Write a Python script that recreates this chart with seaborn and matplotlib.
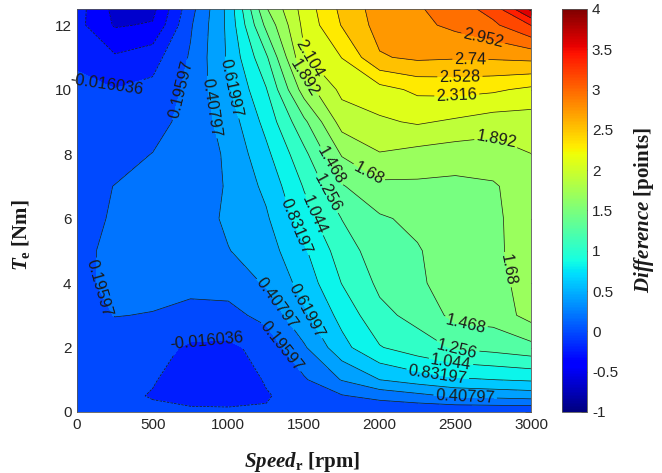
import numpy as np
import matplotlib
matplotlib.use("Agg")
import matplotlib.pyplot as plt
import seaborn as sns
from matplotlib.colors import Normalize
from matplotlib.cm import ScalarMappable

# ---------------- data ----------------
speed_rpm = [0, 250, 500, 750, 1000, 1250, 1500, 1750, 2000, 2250, 2500, 2750, 3000]
torque_nm = [0, 0.5, 1, 2, 3, 4, 5, 6, 7, 8, 9, 10, 11, 12, 12.5]

# difference [points] along torque_nm, one list per speed
diff_0rpm    = [0.06, 0.06, 0.07, 0.10, 0.13, 0.15, 0.16, 0.15, 0.13, 0.09, 0.05, 0.03, -0.05, -0.16, -0.14]
diff_250rpm  = [0.05, 0.04, 0.06, 0.12, 0.20, 0.24, 0.23, 0.21, 0.20, 0.13, 0.06, -0.01, -0.20, -0.46, -0.50]
diff_500rpm  = [0.03, -0.03, 0.00, 0.06, 0.19, 0.24, 0.26, 0.25, 0.22, 0.20, 0.12, 0.04, -0.10, -0.42, -0.50]
diff_750rpm  = [0.03, -0.10, -0.12, -0.05, 0.15, 0.24, 0.28, 0.28, 0.27, 0.28, 0.27, 0.25, 0.22, 0.17, 0.12]
diff_1000rpm = [0.03, -0.12, -0.14, -0.06, 0.13, 0.28, 0.40, 0.45, 0.43, 0.44, 0.50, 0.59, 0.65, 0.67, 0.68]
diff_1250rpm = [0.00, -0.03, 0.00, 0.06, 0.26, 0.43, 0.52, 0.59, 0.67, 0.78, 0.90, 1.03, 1.22, 1.52, 1.66]
diff_1500rpm = [0.00, 0.06, 0.17, 0.38, 0.58, 0.70, 0.80, 0.95, 1.06, 1.20, 1.42, 1.78, 2.08, 2.16, 2.19]
diff_1750rpm = [0.00, 0.18, 0.42, 0.76, 0.90, 1.05, 1.15, 1.26, 1.45, 1.70, 1.98, 2.16, 2.32, 2.54, 2.58]
diff_2000rpm = [0.00, 0.27, 0.62, 1.03, 1.20, 1.30, 1.37, 1.44, 1.63, 1.88, 2.07, 2.24, 2.72, 2.82, 2.84]
diff_2250rpm = [0.00, 0.35, 0.72, 1.16, 1.32, 1.43, 1.45, 1.52, 1.64, 1.82, 2.13, 2.36, 2.78, 2.90, 2.93]
diff_2500rpm = [0.00, 0.44, 0.80, 1.28, 1.53, 1.58, 1.59, 1.61, 1.63, 1.78, 2.07, 2.38, 2.76, 3.00, 3.05]
diff_2750rpm = [0.00, 0.47, 0.83, 1.33, 1.55, 1.63, 1.65, 1.65, 1.66, 1.78, 2.00, 2.35, 2.77, 3.12, 3.25]
diff_3000rpm = [0.00, 0.50, 0.86, 1.40, 1.76, 1.74, 1.75, 1.76, 1.78, 1.89, 2.00, 2.27, 2.80, 3.38, 3.85]

contour_levels = [-0.652036, -0.440036, -0.228036, -0.016036, 0.19597, 0.40797, 0.61997,
                  0.83197, 1.044, 1.256, 1.468, 1.68, 1.892, 2.104, 2.316, 2.528, 2.74,
                  2.952, 3.164, 3.376, 3.588, 3.8, 4.012]
labelled_levels = [-0.016036, 0.19597, 0.40797, 0.61997, 0.83197, 1.044, 1.256, 1.468,
                   1.68, 1.892, 2.104, 2.316, 2.528, 2.74, 2.952]
labelled_text = ["-0.016036", "0.19597", "0.40797", "0.61997", "0.83197", "1.044", "1.256",
                 "1.468", "1.68", "1.892", "2.104", "2.316", "2.528", "2.74", "2.952"]
x_ticks = [0, 500, 1000, 1500, 2000, 2500, 3000]
y_ticks = [0, 2, 4, 6, 8, 10, 12]
cbar_ticks = [-1, -0.5, 0, 0.5, 1, 1.5, 2, 2.5, 3, 3.5, 4]
cbar_ticklabels = ["-1", "-0.5", "0", "0.5", "1", "1.5", "2", "2.5", "3", "3.5", "4"]

# where the contour labels sit (speed, torque)
label_spots = [(200, 10.2), (860, 2.1), (695, 10.0), (175, 3.9), (1340, 2.0),
               (900, 9.46), (1330, 3.4), (2565, 0.43), (1010, 10.05), (1500, 3.1),
               (1440, 5.75), (2380, 1.05), (1560, 6.1), (2465, 1.4), (1660, 6.8),
               (2510, 1.9), (1685, 7.65), (2565, 2.65), (1935, 7.45), (2830, 4.4),
               (1505, 10.35), (2770, 8.45), (1520, 10.9), (2510, 9.8), (2530, 10.45),
               (2600, 11.05), (2685, 11.6)]

# ---------------- style ----------------
sns.set_theme(style="white")
plt.rcParams["font.family"] = ["Liberation Sans", "DejaVu Sans"]
plt.rcParams["mathtext.fontset"] = "custom"
plt.rcParams["mathtext.it"] = "Liberation Serif:italic:bold"
plt.rcParams["mathtext.rm"] = "Liberation Serif:bold"
plt.rcParams["mathtext.bf"] = "Liberation Serif:bold"

fig = plt.figure(figsize=(6.62, 4.73), dpi=100)
ax = fig.add_axes([0.1163, 0.129, 0.6858, 0.852])
cax = fig.add_axes([0.849, 0.129, 0.0378, 0.852])

Z = np.column_stack([diff_0rpm, diff_250rpm, diff_500rpm, diff_750rpm, diff_1000rpm,
                     diff_1250rpm, diff_1500rpm, diff_1750rpm, diff_2000rpm, diff_2250rpm,
                     diff_2500rpm, diff_2750rpm, diff_3000rpm])
Xg, Yg = np.meshgrid(speed_rpm, torque_nm)

cmap = plt.get_cmap("jet")
norm = Normalize(vmin=-1, vmax=4)
fill_colors = [cmap(norm(v)) for v in contour_levels[:-1]]

ax.contourf(Xg, Yg, Z, levels=contour_levels, colors=fill_colors)
plain_levels = [v for v in contour_levels if v not in labelled_levels]
ax.contour(Xg, Yg, Z, levels=plain_levels, colors="k", linewidths=0.5)
cs = ax.contour(Xg, Yg, Z, levels=labelled_levels, colors="k", linewidths=0.5)
ax.clabel(cs, fmt=dict(zip(cs.levels, labelled_text)),
          fontsize=11.8, inline=True, inline_spacing=2, manual=label_spots)
for t in cs.labelTexts:
    t.set_clip_on(False)

ax.set_xlim(0, 3000)
ax.set_ylim(0, 12.5)
ax.set_xticks(x_ticks)
ax.set_yticks(y_ticks)
ax.tick_params(direction="in", top=True, right=True, length=4, width=0.5,
               labelsize=11, colors="#262626", pad=4)
for s in ax.spines.values():
    s.set_linewidth(0.6)
    s.set_color("#555555")

ax.set_xlabel(r"$\mathit{Speed}_{\mathrm{r}}$ [rpm]", family="Liberation Serif",
              fontweight="bold", fontsize=15, color="#1a1a1a")
ax.set_ylabel(r"$\mathit{T}_{\mathrm{e}}$ [Nm]", family="Liberation Serif",
              fontweight="bold", fontsize=15, color="#1a1a1a")
ax.xaxis.set_label_coords(0.496, -0.095)
ax.yaxis.set_label_coords(-0.098, 0.44)

cb = fig.colorbar(ScalarMappable(norm=norm, cmap=cmap), cax=cax, ticks=cbar_ticks)
cb.ax.set_yticklabels(cbar_ticklabels)
cb.ax.tick_params(direction="in", length=4, width=0.5, labelsize=11, colors="#262626")
cb.outline.set_linewidth(0.6)
cb.outline.set_edgecolor("#555555")
cb.set_label(r"$\mathit{Difference}$ [points]", family="Liberation Serif",
             fontweight="bold", fontsize=15, color="#1a1a1a", labelpad=10)

fig.savefig("out.png", dpi=100)
